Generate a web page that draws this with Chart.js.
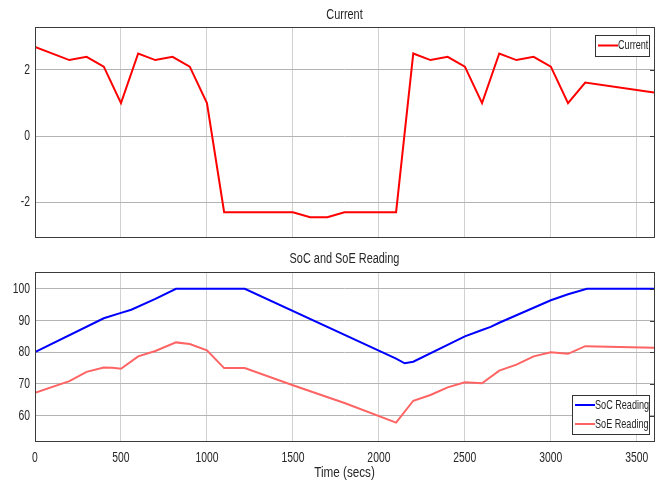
<!DOCTYPE html>
<html>
<head>
<meta charset="utf-8">
<script src="https://cdn.jsdelivr.net/npm/chart.js@4.4.1/dist/chart.umd.min.js"></script>
<style>
body { margin: 0; background: #fff; }
#wrap { position: relative; width: 672px; height: 488px; }
.box { position: absolute; left: 0; width: 672px; }
</style>
</head>
<body>
<div id="wrap">
    <div class="box" style="top:0;height:245px"><canvas id="currentChart"></canvas></div>
    <div class="box" style="top:245px;height:243px"><canvas id="socChart"></canvas></div>
</div>
<script>
// values
const xTicks = [0, 500, 1000, 1500, 2000, 2500, 3000, 3500];

const currentTime  = [0, 200, 300, 400, 500, 600, 700, 800, 900, 1000, 1100, 1500, 1600, 1700, 1800, 2100,
                      2200, 2300, 2400, 2500, 2600, 2700, 2800, 2900, 3000, 3100, 3200, 3600];
const currentValue = [2.7, 2.3, 2.4, 2.1, 1.0, 2.5, 2.3, 2.4, 2.1, 1.0, -2.3, -2.3, -2.45, -2.45, -2.3, -2.3,
                      2.5, 2.3, 2.4, 2.1, 1.0, 2.5, 2.3, 2.4, 2.1, 1.0, 1.62, 1.32];
const currentTicks = [-2, 0, 2];

const socTime  = [0, 400, 500, 560, 700, 820, 1220, 2100, 2150, 2200, 2500, 2600, 2650, 2700, 3000, 3100, 3210, 3600];
const socValue = [80, 90.7, 92.4, 93.4, 96.8, 100, 100, 78, 76.5, 77, 85, 87, 88, 89.3, 96.4, 98.3, 100, 100];

const soeTime  = [0, 0, 200, 300, 400, 450, 500, 600, 700, 820, 900, 1000, 1100, 1220, 1500, 1800, 2100,
                  2200, 2300, 2400, 2500, 2600, 2700, 2800, 2900, 3000, 3100, 3200, 3600];
const soeValue = [57.5, 67.2, 70.9, 73.8, 75.2, 75.1, 74.8, 78.7, 80.4, 83.1, 82.6, 80.6, 75, 75, 69.6, 64, 57.8,
                  64.7, 66.5, 68.9, 70.5, 70.2, 74.2, 76.1, 78.7, 80, 79.5, 81.9, 81.4];
const readingTicks = [60, 70, 80, 90, 100];

const FONT = '"Liberation Sans", Arial, sans-serif';

function toPoints(xs, ys) {
    return xs.map((x, i) => ({ x: x, y: ys[i] }));
}

// the picture uses a narrow face, so squeeze the text horizontally
function narrowText(ctx, text, x, y, size, align, squeeze) {
    ctx.save();
    ctx.translate(x, y);
    ctx.scale(squeeze || 0.8, 1);
    ctx.font = size + 'px ' + FONT;
    ctx.textAlign = align;
    ctx.textBaseline = 'middle';
    ctx.fillText(text, 0, 0);
    ctx.restore();
}

// MATLAB-like box, tick labels, title, xlabel and legend
const framePlugin = {
    id: 'frame',
    afterDraw(chart, args, opts) {
        const ctx = chart.ctx;
        const a = chart.chartArea;
        ctx.save();
        ctx.strokeStyle = '#3c3c3c';
        ctx.lineWidth = 1;
        ctx.strokeRect(Math.round(a.left) + 0.5, Math.round(a.top) + 0.5,
            Math.round(a.right - a.left), Math.round(a.bottom - a.top));

        ctx.fillStyle = '#262626';
        const ys = chart.scales.y;
        ys.ticks.forEach(t => {
            const py = Math.round(ys.getPixelForValue(t.value)) + 0.5;
            ctx.beginPath();
            ctx.moveTo(a.right - 4, py);
            ctx.lineTo(a.right, py);
            ctx.stroke();
            narrowText(ctx, String(t.value), a.left - 5, py, 14, 'right', 0.74);
        });
        if (opts.xLabels) {
            const xs = chart.scales.x;
            xs.ticks.forEach(t => {
                narrowText(ctx, String(t.value), xs.getPixelForValue(t.value), a.bottom + 17, 14, 'center', 0.74);
            });
        }

        narrowText(ctx, opts.title, (a.left + a.right) / 2, opts.titleY, 14, 'center', 0.78);
        if (opts.xlabel) {
            narrowText(ctx, opts.xlabel, (a.left + a.right) / 2, opts.xlabelY, 15, 'center', 0.78);
        }

        // legend
        const lg = opts.legend;
        const sets = chart.data.datasets;
        const h = lg.rowH * sets.length + 1;
        ctx.fillStyle = '#fff';
        ctx.fillRect(lg.x, lg.y, lg.w, h);
        ctx.strokeStyle = '#333';
        ctx.lineWidth = 1;
        ctx.strokeRect(lg.x + 0.5, lg.y + 0.5, lg.w, h);
        sets.forEach((ds, i) => {
            const cy = lg.y + lg.rowH * (i + 0.5) + 0.5;
            ctx.strokeStyle = ds.borderColor;
            ctx.lineWidth = 2;
            ctx.beginPath();
            ctx.moveTo(lg.x + 3, cy);
            ctx.lineTo(lg.x + 23, cy);
            ctx.stroke();
            ctx.fillStyle = '#262626';
            narrowText(ctx, ds.label, lg.x + 23, cy, 13, 'left', 0.7);
        });
        ctx.restore();
    }
};

function makeScales(yMin, yMax, yTicks, xHeight) {
    return {
        x: {
            type: 'linear',
            min: 0,
            max: 3600,
            afterBuildTicks: s => { s.ticks = xTicks.map(v => ({ value: v })); },
            afterFit: s => { s.height = xHeight; },
            grid: { color: '#d2d2d2', drawTicks: false },
            border: { display: false },
            ticks: { display: false }
        },
        y: {
            min: yMin,
            max: yMax,
            afterBuildTicks: s => { s.ticks = yTicks.map(v => ({ value: v })); },
            afterFit: s => { s.width = 35; },
            grid: { color: '#b4b4b4', drawTicks: false },
            border: { display: false },
            ticks: { display: false }
        }
    };
}

new Chart(document.getElementById('currentChart'), {
    type: 'line',
    data: {
        datasets: [{
            label: 'Current',
            data: toPoints(currentTime, currentValue),
            borderColor: '#ff0000',
            borderWidth: 2,
            pointRadius: 0,
            tension: 0
        }]
    },
    options: {
        responsive: true,
        maintainAspectRatio: false,
        animation: false,
        layout: { padding: { top: 27, right: 18, left: 0, bottom: 0 } },
        scales: makeScales(-3.05, 3.3, currentTicks, 8),
        plugins: {
            legend: { display: false },
            tooltip: { enabled: false },
            frame: { title: 'Current', titleY: 15, xLabels: false, legend: { x: 595, y: 35, w: 54, rowH: 20 } }
        }
    },
    plugins: [framePlugin]
});

new Chart(document.getElementById('socChart'), {
    type: 'line',
    data: {
        datasets: [
            {
                label: 'SoC Reading',
                data: toPoints(socTime, socValue),
                borderColor: '#0000ff',
                borderWidth: 2,
                pointRadius: 0,
                tension: 0
            },
            {
                label: 'SoE Reading',
                data: toPoints(soeTime, soeValue),
                borderColor: '#ff6464',
                borderWidth: 2,
                pointRadius: 0,
                tension: 0
            }
        ]
    },
    options: {
        responsive: true,
        maintainAspectRatio: false,
        animation: false,
        layout: { padding: { top: 27, right: 18, left: 0, bottom: 0 } },
        scales: makeScales(52, 105.3, readingTicks, 47),
        plugins: {
            legend: { display: false },
            tooltip: { enabled: false },
            frame: {
                title: 'SoC and SoE Reading', titleY: 14, xLabels: true,
                xlabel: 'Time (secs)', xlabelY: 228,
                legend: { x: 572, y: 150, w: 77, rowH: 19 }
            }
        }
    },
    plugins: [framePlugin]
});
</script>
</body>
</html>
